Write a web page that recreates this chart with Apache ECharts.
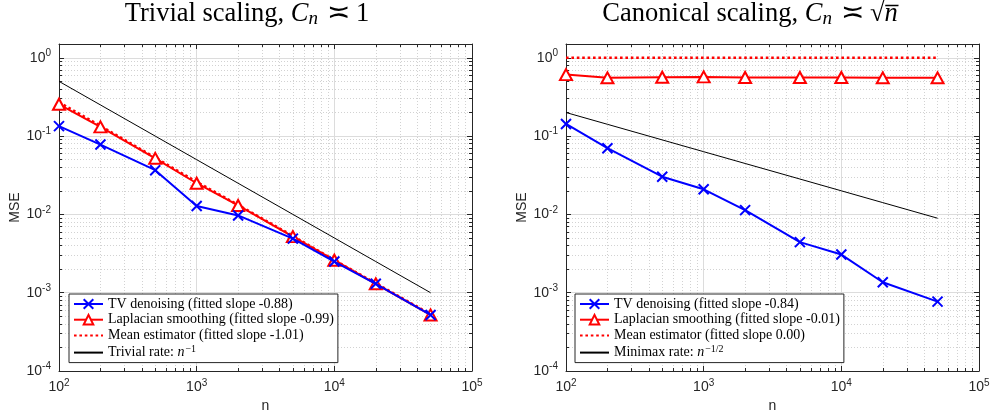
<!DOCTYPE html>
<html><head><meta charset="utf-8">
<script src="https://cdn.jsdelivr.net/npm/echarts@6/dist/echarts.min.js"></script>
<style>html,body{margin:0;padding:0;background:#fff}#c{width:992px;height:410px}</style>
</head><body><div id="c"></div>
<script>
// ---- data ----
const nValues = [100, 200, 500, 1000, 2000, 5000, 10000, 20000, 50000];
// Left panel: trivial scaling
const trivialTV   = [0.134, 0.078, 0.0367, 0.0128, 0.0097, 0.0049, 0.0025, 0.0013, 0.00052];
const trivialLap  = [0.255, 0.131, 0.052, 0.025, 0.013, 0.0052, 0.0026, 0.0013, 0.00052];
const trivialMean = [0.27, 0.135, 0.053, 0.026, 0.0132, 0.0053, 0.0026, 0.00132, 0.00053];
const trivialRate = [0.5, 0.25, 0.1, 0.05, 0.025, 0.01, 0.005, 0.0025, 0.001];
// Right panel: canonical scaling
const canonTV   = [0.143, 0.070, 0.0303, 0.0209, 0.01135, 0.00442, 0.00307, 0.00136, 0.00077];
const canonLap  = [0.61, 0.555, 0.565, 0.57, 0.56, 0.56, 0.56, 0.555, 0.555];
const canonMean = [1, 1, 1, 1, 1, 1, 1, 1, 1];
const canonRate = [0.2, 0.1414, 0.0894, 0.0632, 0.0447, 0.0283, 0.02, 0.01414, 0.00894];
// axis ranges / tick labels (powers of ten)
const xRange = [100, 100000];
const yRange = [1e-4, 1.5];
const xTickExponents = [2, 3, 4, 5];
const yTickExponents = [-4, -3, -2, -1, 0];
// legend names
const leftNames = ['TV denoising (fitted slope -0.88)', 'Laplacian smoothing (fitted slope -0.99)', 'Mean estimator (fitted slope -1.01)', 'Trivial rate: n^-1'];
const rightNames = ['TV denoising (fitted slope -0.84)', 'Laplacian smoothing (fitted slope -0.01)', 'Mean estimator (fitted slope 0.00)', 'Minimax rate: n^-1/2'];

// ---- helpers ----
const SANS = 'Liberation Sans, Arial, Helvetica, sans-serif';
const SERIF = 'Liberation Serif, Times New Roman, serif';
const AX = '#262626';
function pairs(arr) { return nValues.map((n, i) => [n, arr[i]]); }
function powLabel(allowed) {
  return function (v) {
    const e = Math.round(Math.log10(v));
    if (Math.abs(Math.log10(v) - e) > 1e-6 || allowed.indexOf(e) < 0) return '';
    return '{b|10}{s|' + e + '}';
  };
}
const tickRich = {
  b: { fontSize: 14, fontFamily: SANS, color: AX },
  s: { fontSize: 10, fontFamily: SANS, color: AX, padding: [0, 0, 9, 0] }
};
function mainX(gi) {
  return {
    type: 'log', logBase: 10, gridIndex: gi, min: xRange[0], max: xRange[1], position: 'bottom',
    axisLine: { show: true, onZero: false, lineStyle: { color: AX, width: 1 } },
    axisTick: { show: true, inside: true, length: 5, lineStyle: { color: AX } },
    minorTick: { show: true, splitNumber: 9, length: 3, lineStyle: { color: AX } },
    splitLine: { show: true, lineStyle: { color: '#dcdcdc', width: 1 } },
    minorSplitLine: { show: true, lineStyle: { color: '#d2d2d2', width: 1, type: [1, 2] } },
    axisLabel: { formatter: powLabel(xTickExponents), rich: tickRich, margin: 7, showMaxLabel: true },
    name: 'n', nameLocation: 'middle', nameGap: 27,
    nameTextStyle: { fontSize: 14, fontFamily: SANS, color: AX }
  };
}
function topX(gi) {
  return {
    type: 'log', logBase: 10, gridIndex: gi, min: xRange[0], max: xRange[1], position: 'top',
    axisLine: { show: true, onZero: false, lineStyle: { color: AX, width: 1 } },
    axisTick: { show: true, inside: true, length: 5, lineStyle: { color: AX } },
    minorTick: { show: true, splitNumber: 9, length: 3, lineStyle: { color: AX } },
    splitLine: { show: false }, axisLabel: { show: false }
  };
}
function mainY(gi) {
  return {
    type: 'log', logBase: 10, gridIndex: gi, min: yRange[0], max: yRange[1], position: 'left',
    axisLine: { show: true, onZero: false, lineStyle: { color: AX, width: 1 } },
    axisTick: { show: true, inside: true, length: 5, lineStyle: { color: AX } },
    minorTick: { show: true, splitNumber: 9, length: 3, lineStyle: { color: AX } },
    splitLine: { show: true, lineStyle: { color: '#dcdcdc', width: 1 } },
    minorSplitLine: { show: true, lineStyle: { color: '#d2d2d2', width: 1, type: [1, 2] } },
    axisLabel: { formatter: powLabel(yTickExponents), rich: tickRich, margin: 8 },
    name: 'MSE', nameLocation: 'middle', nameGap: 36, nameRotate: 90,
    nameTextStyle: { fontSize: 14, fontFamily: SANS, color: AX }
  };
}
function rightY(gi) {
  return {
    type: 'log', logBase: 10, gridIndex: gi, min: yRange[0], max: yRange[1], position: 'right',
    axisLine: { show: true, onZero: false, lineStyle: { color: AX, width: 1 } },
    axisTick: { show: true, inside: true, length: 5, lineStyle: { color: AX } },
    minorTick: { show: true, splitNumber: 9, length: 3, lineStyle: { color: AX } },
    splitLine: { show: false }, axisLabel: { show: false }
  };
}
const X_SYMBOL = 'path://M0,0L10,10M10,0L0,10';
function tvSeries(name, data, k) {
  return { name, type: 'line', xAxisIndex: 2 * k, yAxisIndex: 2 * k, data: pairs(data),
    symbol: X_SYMBOL, symbolSize: 10, z: 5,
    lineStyle: { color: '#0000ff', width: 2 },
    itemStyle: { color: '#0000ff', borderColor: '#0000ff', borderWidth: 2 } };
}
function lapSeries(name, data, k) {
  return { name, type: 'line', xAxisIndex: 2 * k, yAxisIndex: 2 * k, data: pairs(data),
    symbol: 'emptyTriangle', symbolSize: [12, 11], z: 4,
    lineStyle: { color: '#ff0000', width: 2 },
    itemStyle: { color: '#ff0000', borderColor: '#ff0000', borderWidth: 2 } };
}
function meanSeries(name, data, k) {
  return { name, type: 'line', xAxisIndex: 2 * k, yAxisIndex: 2 * k, data: pairs(data),
    symbol: 'none', z: 3,
    lineStyle: { color: '#ff0000', width: 2.6, type: [2.6, 2.8] },
    itemStyle: { color: '#ff0000' } };
}
function rateSeries(name, data, k) {
  return { name, type: 'line', xAxisIndex: 2 * k, yAxisIndex: 2 * k, data: pairs(data),
    symbol: 'none', z: 3,
    lineStyle: { color: '#000000', width: 1 },
    itemStyle: { color: '#000000' } };
}
function legendFmt(name) {
  if (name.indexOf('n^-1/2') >= 0) return '{t|' + name.replace('n^-1/2', '') + '}{i|n}{s|−1/2}';
  if (name.indexOf('n^-1') >= 0) return '{t|' + name.replace('n^-1', '') + '}{i|n}{s|−1}';
  return name;
}
const FS = 14;
function legend(names, left) {
  const hidden = { color: 'rgba(0,0,0,0)', borderColor: 'rgba(0,0,0,0)', borderWidth: 0 };
  return {
    data: [
      { name: names[0] },
      { name: names[1] },
      { name: names[2], itemStyle: hidden },
      { name: names[3], itemStyle: hidden }
    ],
    orient: 'vertical', left: left, top: 294,
    backgroundColor: '#ffffff', borderColor: AX, borderWidth: 1,
    padding: [3, 4, 3, 4], itemGap: 1.7, itemWidth: 29, itemHeight: 12,
    selectedMode: false, formatter: legendFmt,
    textStyle: { fontFamily: SERIF, fontSize: FS, color: '#000',
      rich: {
        t: { fontFamily: SERIF, fontSize: FS, color: '#000' },
        i: { fontFamily: SERIF, fontStyle: 'italic', fontSize: FS, color: '#000' },
        s: { fontFamily: SERIF, fontSize: 10, color: '#000', padding: [0, 0, 7, 1] }
      } }
  };
}
const TFS = 26.5;
const titleRich = {
  r: { fontFamily: SERIF, fontWeight: 'normal', fontSize: TFS, color: '#000' },
  i: { fontFamily: SERIF, fontWeight: 'normal', fontStyle: 'italic', fontSize: TFS, color: '#000' },
  op: { fontFamily: 'DejaVu Serif, serif', fontWeight: 'normal', fontSize: 28, color: '#000', padding: [0, 6, 0, 9] },
  sub: { fontFamily: SERIF, fontWeight: 'normal', fontStyle: 'italic', fontSize: 19, color: '#000', padding: [9, 0, 0, 0] }
};

const chart = echarts.init(document.getElementById('c'), null, { renderer: 'canvas' });
chart.setOption({
  backgroundColor: '#ffffff',
  animation: false,
  title: [
    { text: '{r|Trivial scaling, }{i|C}{sub|n}{op|≍}{r|1}', left: 247, top: 0, textAlign: 'center', padding: 0,
      textStyle: { fontWeight: 'normal', rich: titleRich } },
    { text: '{r|Canonical scaling, }{i|C}{sub|n}{op|≍}{r|√}{i|n\u0305}', left: 750, top: 0, textAlign: 'center', padding: 0,
      textStyle: { fontWeight: 'normal', rich: titleRich } }
  ],
  grid: [
    { left: 59, top: 44, width: 413, height: 327, containLabel: false, outerBoundsMode: 'none' },
    { left: 566, top: 44, width: 413, height: 327, containLabel: false, outerBoundsMode: 'none' }
  ],
  xAxis: [mainX(0), topX(0), mainX(1), topX(1)],
  yAxis: [mainY(0), rightY(0), mainY(1), rightY(1)],
  legend: [legend(leftNames, 69), legend(rightNames, 575)],
  series: [
    rateSeries(leftNames[3], trivialRate, 0),
    meanSeries(leftNames[2], trivialMean, 0),
    lapSeries(leftNames[1], trivialLap, 0),
    tvSeries(leftNames[0], trivialTV, 0),
    rateSeries(rightNames[3], canonRate, 1),
    meanSeries(rightNames[2], canonMean, 1),
    lapSeries(rightNames[1], canonLap, 1),
    tvSeries(rightNames[0], canonTV, 1)
  ]
});
</script></body></html>
